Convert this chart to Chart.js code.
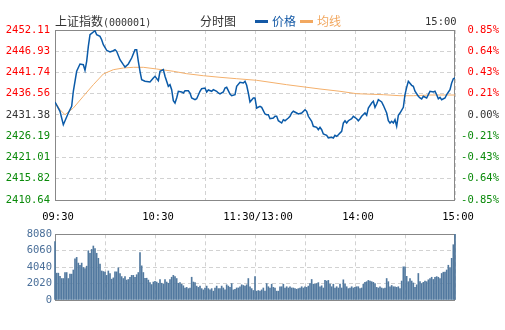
<!DOCTYPE html>
<html><head><meta charset="utf-8">
<script src="https://cdn.jsdelivr.net/npm/chart.js@4/dist/chart.umd.min.js"></script>
<style>
html,body{margin:0;padding:0;background:#fff;width:505px;height:330px;overflow:hidden;position:relative}
canvas{position:absolute;left:0}
#c1{top:0}
#c2{top:225px}
.hdr{position:absolute;top:13px;font:12px "Noto Sans CJK SC",sans-serif;color:#333;line-height:16px;white-space:nowrap}
.mono{font-family:"DejaVu Sans Mono",monospace;font-size:10px}
.lg{display:inline-block;width:13px;height:3px;vertical-align:middle;margin-right:4px;position:relative;top:-1px}
</style></head><body>
<canvas id="c1" width="505" height="225"></canvas>
<canvas id="c2" width="505" height="105"></canvas>
<div class="hdr" style="left:55px">上证指数<span class="mono">(000001)</span></div>
<div class="hdr" style="left:200px">分时图</div>
<div class="hdr" style="left:255px;color:#1459a6"><span class="lg" style="background:#1459a6"></span>价格</div>
<div class="hdr" style="left:300px;color:#f2a860"><span class="lg" style="background:#f2a860"></span>均线</div>
<div class="hdr mono" style="left:425px;font-size:10.5px;color:#333">15:00</div>
<script>
// ---- data ----
const prevClose = 2431.38;
const priceTicks = [2410.64, 2415.82, 2421.01, 2426.19, 2431.38, 2436.56, 2441.74, 2446.93, 2452.11];
const pctLabels = ['-0.85%', '-0.64%', '-0.43%', '-0.21%', '0.00%', '0.21%', '0.43%', '0.64%', '0.85%'];
const timeTickMinutes = [0, 30, 60, 90, 120, 150, 180, 210, 240];
const timeLabels = ['09:30', '', '10:30', '', '11:30/13:00', '', '14:00', '', '15:00'];
const volTicks = [0, 2020, 4040, 6060, 8080];

const priceMinutes = [0,3,5,8,10,11,13,15,17,18,19,20,21,24,25,27,28,29,31,33,35,36,37,39,41,42,44,46,48,49,50,51,52,54,57,59,60,62,63,65,66,68,69,70,71,72,73,74,76,77,78,80,81,82,84,85,87,88,90,91,92,94,95,97,98,99,101,102,103,105,106,108,109,111,113,114,115,116,117,119,120,121,123,124,126,127,128,129,131,132,133,134,136,137,138,140,141,142,143,145,146,148,150,151,152,154,155,157,158,159,160,161,163,164,166,167,168,169,170,172,173,174,175,176,178,179,181,182,183,184,186,187,188,190,191,192,193,194,196,197,199,200,201,202,203,204,205,206,207,209,210,211,212,214,215,216,218,219,220,221,223,224,225,227,228,229,230,231,232,234,235,237,238,239,240];
const priceValues = [2434.55,2432.28,2429.01,2431.86,2433.50,2437.16,2442.04,2443.82,2443.65,2442.28,2444.47,2448.13,2450.96,2451.94,2450.96,2450.57,2449.74,2448.52,2447.16,2446.74,2447.06,2447.30,2446.91,2444.87,2443.65,2443.08,2443.82,2445.28,2447.30,2447.30,2444.47,2442.04,2439.99,2439.60,2439.43,2440.40,2440.82,2439.74,2442.04,2442.43,2440.82,2438.38,2438.77,2437.55,2434.86,2434.30,2435.52,2437.16,2436.99,2436.74,2437.30,2437.30,2436.74,2435.52,2435.11,2435.35,2437.16,2437.79,2437.96,2436.99,2437.47,2437.16,2437.55,2437.16,2436.74,2436.50,2436.99,2437.96,2438.13,2436.50,2436.08,2436.33,2438.38,2439.35,2439.18,2439.60,2438.62,2436.74,2434.55,2435.52,2435.52,2433.08,2433.50,2433.25,2431.62,2431.45,2431.45,2430.47,2430.64,2431.06,2431.06,2429.98,2429.42,2430.23,2429.98,2430.64,2431.06,2431.86,2432.28,2431.86,2431.62,2431.86,2432.67,2432.28,2431.06,2429.84,2428.62,2428.37,2427.79,2428.37,2427.79,2426.74,2426.42,2425.76,2425.94,2425.76,2426.42,2426.18,2426.57,2427.40,2429.42,2429.98,2429.42,2429.98,2430.47,2431.06,2430.47,2429.98,2430.47,2431.06,2431.86,2431.30,2433.08,2434.30,2434.72,2433.25,2434.06,2435.11,2434.55,2433.74,2431.86,2429.98,2429.42,2429.84,2429.42,2430.23,2428.62,2431.30,2431.86,2433.25,2436.33,2438.13,2439.60,2438.62,2438.38,2437.16,2435.94,2435.52,2435.28,2435.94,2435.52,2436.33,2437.16,2436.99,2437.16,2436.33,2435.35,2435.69,2435.11,2435.52,2436.33,2437.55,2439.18,2440.23,2440.40];

const avgMinutes = [0,3,6,11,17,23,29,35,41,47,53,61,71,79,89,99,109,121,139,159,171,181,197,207,215,225,240];
const avgValues = [2434.55,2432.67,2431.45,2433.08,2435.94,2438.77,2441.38,2442.43,2442.84,2443.01,2443.01,2442.60,2442.04,2441.45,2440.96,2440.57,2440.23,2439.84,2438.77,2437.72,2437.16,2436.57,2436.33,2436.08,2436.08,2436.25,2436.25];

const volumes = [
7200,3300,3300,2920,2640,2640,3380,3380,2640,3180,3180,3690,5050,5240,4540,4270,4540,4000,3850,4160,6060,5750,6220,6640,6330,5750,5130,4430,3570,3500,3420,3030,3570,3260,2560,2720,3460,3460,3960,3260,2880,2640,2880,2450,2520,2800,3030,3030,2800,3110,3380,5830,4200,3380,2680,2680,2450,2140,1900,2210,2290,
2210,2060,2520,2060,1940,2520,2210,2060,2520,2800,3030,2880,2640,2060,2140,1940,1750,1480,1550,1400,1480,2800,2210,2140,1710,1550,1710,1400,1240,1480,1710,1400,1240,1400,1090,1480,1710,1400,1400,1710,1480,1240,1870,1710,1550,2020,1240,1320,1480,1480,1630,1870,1790,1710,1870,2640,1630,1400,1170,2880,
1088,1166,1088,1243,1476,1088,2020,1632,1476,1943,1554,1476,1088,1088,1632,1632,1943,1476,1632,1476,1632,1476,1476,1399,1321,1399,1476,1632,1476,1632,1554,1709,2020,2525,1943,1943,2020,2137,1632,1748,1476,2409,2331,2409,1943,1632,1943,1476,1632,1476,1943,1476,2486,1943,1632,1399,1476,1632,1476,1554,1632,1632,1399,1476,1943,2176,2253,2409,2331,2253,2176,2020,1554,1476,1632,1476,1399,1476,2642,2253,1632,1787,1632,1632,1554,1632,1399,2331,4079,4079,2914,2253,2642,2331,2098,1554,1865,3263,2253,2020,2176,2331,2253,2486,2642,2797,2525,2797,2875,2797,2642,3263,3419,3419,3691,4274,3963,5128,6799,8080];

// ---- style ----
const RED = '#ff0000', GREEN = '#0a8a0a', GRAY = '#333333';
const GRID = '#d2d2d2';
const MONO = '"DejaVu Sans Mono", monospace';

const framePlugin = {
  id: 'frame',
  beforeDatasetsDraw(chart) {
    const {ctx, chartArea: a} = chart;
    ctx.save();
    ctx.strokeStyle = '#888888';
    ctx.lineWidth = 1;
    const l = Math.round(a.left) + 0.5, t = Math.round(a.top) + 0.5;
    ctx.strokeRect(l, t, Math.round(a.right) - 1 - Math.round(a.left), Math.round(a.bottom) - Math.round(a.top));
    ctx.restore();
  }
};

const tickColor = (v) => Math.abs(v - prevClose) < 0.005 ? GRAY : (v > prevClose ? RED : GREEN);

new Chart(document.getElementById('c1'), {
  type: 'line',
  data: {
    datasets: [
      {
        data: priceMinutes.map((m, i) => ({x: m, y: priceValues[i]})),
        borderColor: '#0a5aa8', borderWidth: 1.5, pointRadius: 0, tension: 0, yAxisID: 'y'
      },
      {
        data: avgMinutes.map((m, i) => ({x: m, y: avgValues[i]})),
        borderColor: '#f4b06c', borderWidth: 1, pointRadius: 0, tension: 0, yAxisID: 'y'
      }
    ]
  },
  options: {
    responsive: false, animation: false, devicePixelRatio: 1,
    layout: {padding: {top: 30, right: 6, left: 0, bottom: 0}},
    plugins: {legend: {display: false}, tooltip: {enabled: false}},
    scales: {
      x: {
        type: 'linear', min: 0, max: 240, offset: false,
        afterBuildTicks: s => { s.ticks = timeTickMinutes.map(v => ({value: v})); },
        afterFit: s => { s.height = 25; },
        grid: {color: GRID, drawTicks: false, offset: false},
        border: {display: false, dash: [4, 3]},
        ticks: {
          autoSkip: false, maxRotation: 0, padding: 11, labelOffset: 3,
          color: '#000', font: {family: MONO, size: 10.5},
          callback: (v, i) => timeLabels[i]
        }
      },
      y: {
        position: 'left', min: priceTicks[0], max: priceTicks[priceTicks.length - 1],
        afterBuildTicks: s => { s.ticks = priceTicks.map(v => ({value: v})); },
        afterFit: s => { s.width = 55; },
        grid: {color: GRID, drawTicks: false},
        border: {display: false, dash: [4, 3]},
        ticks: {
          autoSkip: false, padding: 5, font: {family: MONO, size: 10.5},
          color: c => tickColor(c.tick.value),
          callback: (v, i) => priceTicks[i].toFixed(2)
        }
      },
      y2: {
        position: 'right', min: priceTicks[0], max: priceTicks[priceTicks.length - 1],
        afterBuildTicks: s => { s.ticks = priceTicks.map(v => ({value: v})); },
        afterFit: s => { s.width = 44; },
        grid: {display: false, drawTicks: false},
        border: {display: false},
        ticks: {
          autoSkip: false, padding: 5, crossAlign: 'far', font: {family: MONO, size: 10.5},
          color: c => tickColor(c.tick.value),
          callback: (v, i) => pctLabels[i]
        }
      }
    }
  },
  plugins: [framePlugin]
});

new Chart(document.getElementById('c2'), {
  type: 'bar',
  data: {
    datasets: [{
      data: volumes.map((v, i) => ({x: i, y: v})),
      backgroundColor: '#52799f', barThickness: 1, grouped: false, clip: false
    }]
  },
  options: {
    responsive: false, animation: false, devicePixelRatio: 1,
    layout: {padding: {top: 6, right: 50, left: 0, bottom: 30}},
    plugins: {legend: {display: false}, tooltip: {enabled: false}},
    scales: {
      x: {
        type: 'linear', min: 0, max: 240, offset: false,
        afterBuildTicks: s => { s.ticks = timeTickMinutes.map(v => ({value: v})); },
        afterFit: s => { s.height = 0; },
        grid: {color: GRID, drawTicks: false, offset: false},
        border: {display: false, dash: [4, 3]},
        ticks: {display: false}
      },
      y: {
        position: 'left', min: 0, max: volTicks[volTicks.length - 1],
        afterBuildTicks: s => { s.ticks = volTicks.map(v => ({value: v})); },
        afterFit: s => { s.width = 55; },
        grid: {color: GRID, drawTicks: false},
        border: {display: false, dash: [4, 3]},
        ticks: {
          autoSkip: false, padding: 3, font: {family: MONO, size: 10.5},
          color: '#4a6f99',
          callback: (v, i) => String(volTicks[i])
        }
      }
    }
  },
  plugins: [framePlugin]
});
</script>
</body></html>
